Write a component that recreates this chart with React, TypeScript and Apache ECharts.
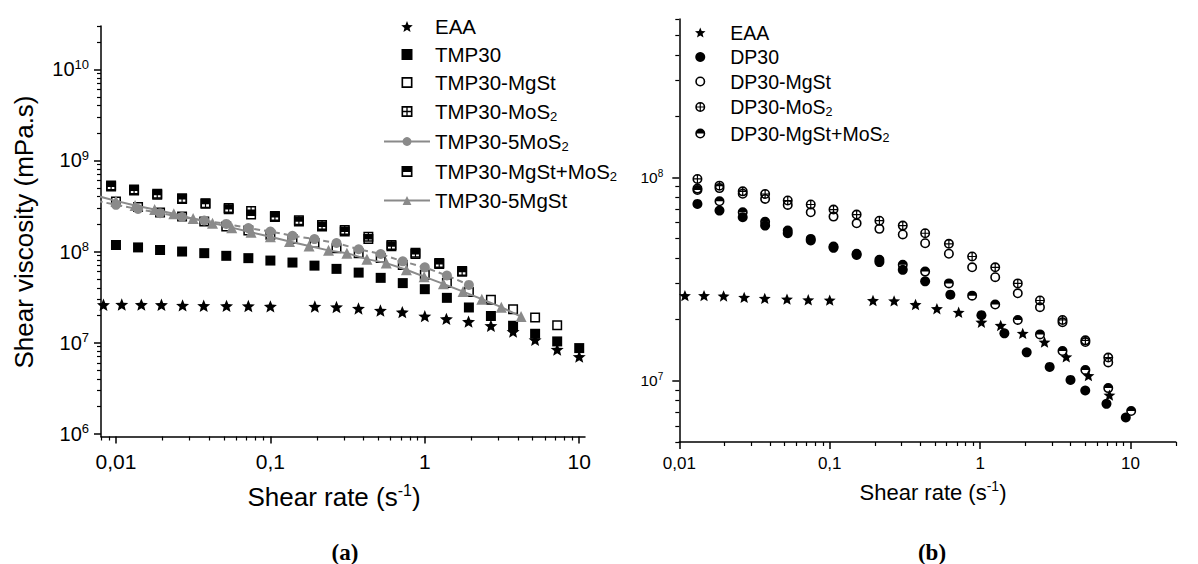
import React, { useEffect, useRef } from 'react';
import * as echarts from 'echarts';

const FONT = '"Liberation Sans", Arial, Helvetica, sans-serif';
const SERIF = '"Liberation Serif", "DejaVu Serif", serif';
const GRAY = '#8a8a8a';

// ---------- Chart (a) data ----------
const A_EAA_X = [0.0083, 0.0109, 0.0146, 0.0197, 0.027, 0.037, 0.052, 0.072, 0.1, 0.194, 0.268, 0.372, 0.516, 0.715, 1.0, 1.38, 1.92, 2.68, 3.73, 5.18, 7.2, 10];
const A_EAA_Y = [2.6e7, 2.62e7, 2.61e7, 2.6e7, 2.56e7, 2.54e7, 2.53e7, 2.52e7, 2.5e7, 2.49e7, 2.46e7, 2.37e7, 2.25e7, 2.16e7, 1.95e7, 1.82e7, 1.7e7, 1.53e7, 1.32e7, 1.07e7, 8.4e6, 7.0e6];

const A_STD_X = [0.01, 0.0139, 0.0193, 0.0268, 0.0373, 0.0518, 0.072, 0.1, 0.139, 0.193, 0.268, 0.373, 0.518, 0.72, 1, 1.39, 1.93, 2.68, 3.73, 5.18, 7.2, 10];
const A_TMP30_Y = [1.18e8, 1.11e8, 1.04e8, 1.0e8, 9.6e7, 8.97e7, 8.46e7, 7.96e7, 7.57e7, 7.0e7, 6.45e7, 5.87e7, 5.14e7, 4.5e7, 3.86e7, 3.1e7, 2.43e7, 1.96e7, 1.53e7, 1.25e7, 1.03e7, 8.7e6];
const A_MGST_Y = [3.55e8, 3.08e8, 2.68e8, 2.43e8, 2.14e8, 1.88e8, 1.7e8, 1.53e8, 1.37e8, 1.24e8, 1.09e8, 9.6e7, 8.5e7, 7.1e7, 5.55e7, 4.5e7, 3.6e7, 2.95e7, 2.33e7, 1.88e7, 1.55e7];

const A_MIX_X = [0.0093, 0.0131, 0.0185, 0.0268, 0.038, 0.0537, 0.075, 0.107, 0.153, 0.216, 0.303, 0.431, 0.608, 0.87, 1.24, 1.745];
const A_MOS2_Y = [5.3e8, 4.8e8, 4.3e8, 3.85e8, 3.4e8, 3.0e8, 2.78e8, 2.45e8, 2.2e8, 1.96e8, 1.72e8, 1.45e8, 1.18e8, 9.7e7, 7.5e7, 6.1e7];
const A_MGST_MOS2_Y = [5.17e8, 4.68e8, 4.2e8, 3.77e8, 3.34e8, 2.92e8, 2.55e8, 2.39e8, 2.14e8, 1.88e8, 1.66e8, 1.37e8, 1.14e8, 9.4e7, 7.3e7, 6.0e7];

const A_5MOS2_X = [0.0075, 0.01, 0.0139, 0.0193, 0.0268, 0.0373, 0.0518, 0.072, 0.1, 0.139, 0.193, 0.268, 0.373, 0.518, 0.72, 1, 1.39, 1.93];
const A_5MOS2_Y = [3.6e8, 3.26e8, 2.93e8, 2.64e8, 2.39e8, 2.19e8, 2.01e8, 1.81e8, 1.66e8, 1.49e8, 1.37e8, 1.24e8, 1.06e8, 9.4e7, 7.8e7, 6.7e7, 5.45e7, 4.3e7];

const A_5MGST_X = [0.0075, 0.01, 0.0133, 0.0178, 0.0237, 0.0316, 0.0422, 0.0562, 0.075, 0.1, 0.133, 0.178, 0.238, 0.313, 0.422, 0.563, 0.76, 0.99, 1.32, 1.77, 2.34, 3.13, 4.2];
const A_5MGST_Y = [4.1e8, 3.6e8, 3.2e8, 2.9e8, 2.6e8, 2.3e8, 2.05e8, 1.83e8, 1.63e8, 1.45e8, 1.29e8, 1.15e8, 1.03e8, 9.6e7, 8.25e7, 7.46e7, 6.3e7, 5.3e7, 4.42e7, 3.63e7, 3.0e7, 2.45e7, 1.93e7];

// ---------- Chart (b) data ----------
const B_EAA_X = [0.0109, 0.0146, 0.0197, 0.027, 0.037, 0.052, 0.072, 0.1, 0.194, 0.268, 0.372, 0.516, 0.72, 1.02, 1.37, 1.92, 2.68, 3.74, 5.25, 7.24];
const B_EAA_Y = [2.62e7, 2.62e7, 2.61e7, 2.57e7, 2.54e7, 2.52e7, 2.5e7, 2.49e7, 2.48e7, 2.47e7, 2.37e7, 2.26e7, 2.17e7, 1.94e7, 1.87e7, 1.71e7, 1.55e7, 1.31e7, 1.06e7, 8.5e6];

const B_STD_X = [0.0132, 0.0185, 0.0264, 0.0372, 0.0526, 0.0748, 0.106, 0.151, 0.214, 0.306, 0.431, 0.62, 0.885, 1.26, 1.78, 2.5, 3.53, 5.01, 7.11, 10.1];
const B_MOS2_Y = [9.82e7, 9.1e7, 8.53e7, 8.28e7, 7.69e7, 7.35e7, 6.94e7, 6.56e7, 6.12e7, 5.79e7, 5.31e7, 4.71e7, 4.08e7, 3.61e7, 3.01e7, 2.48e7, 1.99e7, 1.58e7, 1.3e7];
const B_MGST_Y = [8.8e7, 8.85e7, 8.3e7, 7.83e7, 7.32e7, 6.73e7, 6.41e7, 5.94e7, 5.58e7, 5.24e7, 4.74e7, 4.21e7, 3.61e7, 3.23e7, 2.69e7, 2.3e7, 1.94e7, 1.55e7, 1.23e7];
const B_MGST_MOS2_Y = [8.67e7, 7.62e7, 6.73e7, 6.05e7, 5.47e7, 4.98e7, 4.57e7, 4.21e7, 3.93e7, 3.72e7, 3.44e7, 3.01e7, 2.62e7, 2.37e7, 1.99e7, 1.69e7, 1.4e7, 1.13e7, 9.2e6, 7.1e6];

const B_DP30_X = [0.0132, 0.0185, 0.0264, 0.0372, 0.0526, 0.0748, 0.106, 0.151, 0.214, 0.306, 0.431, 0.634, 1.02, 1.45, 2.04, 2.9, 3.99, 5.0, 6.92, 9.3];
const B_DP30_Y = [7.4e7, 6.86e7, 6.37e7, 5.79e7, 5.31e7, 4.89e7, 4.5e7, 4.15e7, 3.83e7, 3.51e7, 3.08e7, 2.65e7, 2.1e7, 1.71e7, 1.38e7, 1.17e7, 1.01e7, 8.96e6, 7.7e6, 6.6e6];

// ---------- axis ranges / tick labels ----------
const A_X_RANGE = [0.008, 10.9];
const A_Y_RANGE = [9.3e5, 3e10];
const B_X_RANGE = [0.01, 20];
const B_Y_RANGE = [5e6, 6e8];
const A_X_MAJOR = [0.01, 0.1, 1, 10];
const A_Y_MAJOR = [1e6, 1e7, 1e8, 1e9, 1e10];
const B_X_MAJOR = [0.01, 0.1, 1, 10];
const B_Y_MAJOR = [1e7, 1e8];

const LEGEND_A = ['EAA', 'TMP30', 'TMP30-MgSt', 'TMP30-MoS2', 'TMP30-5MoS2', 'TMP30-MgSt+MoS2', 'TMP30-5MgSt'];
const LEGEND_B = ['EAA', 'DP30', 'DP30-MgSt', 'DP30-MoS2', 'DP30-MgSt+MoS2'];

// ---------- symbols ----------
const STAR = 'path://M50 0L62.93 32.2L97.55 34.55L70.92 56.8L79.39 90.45L50 72L20.61 90.45L29.08 56.8L2.45 34.55L37.07 32.2Z';
const SQ_FULL = 'path://M0 0H10V10H0Z';
const SQ_OPEN = 'path://M0 0H10V10H0Z M1.5 1.5V8.5H8.5V1.5Z';
const SQ_PLUS = 'path://M0 0H10V10H0Z M1.5 1.5V4.4H4.4V1.5Z M5.6 1.5V4.4H8.5V1.5Z M1.5 5.6V8.5H4.4V5.6Z M5.6 5.6V8.5H8.5V5.6Z';
const SQ_HALF = 'path://M0 0H10V10H0Z M1.5 5.4V8.5H8.5V5.4Z';
const RING = 'M0 5A5 5 0 1 1 10 5A5 5 0 1 1 0 5Z M1.6 5A3.4 3.4 0 1 0 8.4 5A3.4 3.4 0 1 0 1.6 5Z';
const CI_OPEN = 'path://' + RING;
const CI_PLUS = 'path://' + RING + ' M1.6 4.4H8.4V5.6H1.6Z M4.4 1.6H5.6V8.4H4.4Z';
const CI_HALF = 'path://' + RING + ' M1.6 5A3.4 3.4 0 0 1 8.4 5Z';

function zip(xs: number[], ys: number[]) {
  const n = Math.min(xs.length, ys.length);
  const out: number[][] = [];
  for (let i = 0; i < n; i++) out.push([xs[i], ys[i]]);
  return out;
}

function minorTicks(range: number[]) {
  const res: number[] = [];
  const d0 = Math.floor(Math.log10(range[0]));
  const d1 = Math.ceil(Math.log10(range[1]));
  for (let d = d0; d <= d1; d++) {
    for (let m = 2; m <= 9; m++) {
      const v = parseFloat((m * Math.pow(10, d)).toPrecision(6));
      if (v >= range[0] * 0.999 && v <= range[1] * 1.001) res.push(v);
    }
  }
  return res;
}

const fmtX = (v: number) => String(parseFloat(v.toPrecision(6))).replace('.', ',');
const fmtY = (v: number) => '10{sup|' + Math.round(Math.log10(v)) + '}';
const fmtSub = (name: string) => name.replace(/MoS2/g, 'MoS{sub|2}');

function mainX(grid: number, range: number[], major: number[], fontSize: number, margin: number) {
  return {
    type: 'log', gridIndex: grid, min: range[0], max: range[1], position: 'bottom',
    axisLine: { show: true, onZero: false, lineStyle: { color: '#000', width: 1.5 } },
    axisTick: { show: true, inside: false, length: 7, customValues: major, lineStyle: { color: '#000', width: 1.5 } },
    axisLabel: { show: true, customValues: major, formatter: fmtX, fontSize, fontFamily: FONT, color: '#000', margin },
    splitLine: { show: false }, minorTick: { show: false }, minorSplitLine: { show: false },
  };
}
function minorX(grid: number, range: number[]) {
  return {
    type: 'log', gridIndex: grid, min: range[0], max: range[1], position: 'bottom',
    axisLine: { show: false },
    axisTick: { show: true, inside: false, length: 4, customValues: minorTicks(range), lineStyle: { color: '#000', width: 1.2 } },
    axisLabel: { show: false }, splitLine: { show: false },
  };
}
function mainY(grid: number, range: number[], major: number[], fontSize: number, supSize: number, supPad: number, margin: number) {
  return {
    type: 'log', gridIndex: grid, min: range[0], max: range[1], position: 'left',
    axisLine: { show: true, onZero: false, lineStyle: { color: '#000', width: 1.5 } },
    axisTick: { show: true, inside: false, length: 7, customValues: major, lineStyle: { color: '#000', width: 1.5 } },
    axisLabel: {
      show: true, customValues: major, formatter: fmtY, fontSize, fontFamily: FONT, color: '#000', margin,
      rich: { sup: { fontSize: supSize, fontFamily: FONT, color: '#000', padding: [0, 0, supPad, 0] } },
    },
    splitLine: { show: false }, minorTick: { show: false }, minorSplitLine: { show: false },
  };
}
function minorY(grid: number, range: number[]) {
  return {
    type: 'log', gridIndex: grid, min: range[0], max: range[1], position: 'left',
    axisLine: { show: false },
    axisTick: { show: true, inside: false, length: 4, customValues: minorTicks(range), lineStyle: { color: '#000', width: 1.2 } },
    axisLabel: { show: false }, splitLine: { show: false },
  };
}

function scatter(name: string, ax: number, xs: number[], ys: number[], symbol: string, size: number, color: string) {
  return {
    type: 'scatter', name, xAxisIndex: ax, yAxisIndex: ax, data: zip(xs, ys),
    symbol, symbolSize: size, symbolKeepAspect: true,
    itemStyle: { color, opacity: 1 }, silent: true, emphasis: { disabled: true },
  };
}
function lineSeries(name: string, ax: number, xs: number[], ys: number[], symbol: string, size: number, dashed: boolean) {
  return {
    type: 'line', name, xAxisIndex: ax, yAxisIndex: ax, data: zip(xs, ys),
    symbol, symbolSize: size, showSymbol: true, clip: true,
    lineStyle: { color: GRAY, width: 2, type: dashed ? [6, 4] : 'solid' },
    itemStyle: { color: GRAY }, silent: true, emphasis: { disabled: true },
  };
}

export default function App() {
  const ref = useRef<HTMLDivElement>(null);
  useEffect(() => {
    const chart = echarts.init(ref.current as HTMLDivElement, null, { renderer: 'svg' });
    const option: any = {
      animation: false,
      backgroundColor: '#ffffff',
      textStyle: { fontFamily: FONT },
      grid: [
        { left: 101, top: 26, width: 484, height: 410.5, containLabel: false, outerBoundsMode: 'none' },
        { left: 679.3, top: 19, width: 496.5, height: 423, containLabel: false, outerBoundsMode: 'none' },
      ],
      xAxis: [
        mainX(0, A_X_RANGE, A_X_MAJOR, 21, 14),
        minorX(0, A_X_RANGE),
        mainX(1, B_X_RANGE, B_X_MAJOR, 17, 13),
        minorX(1, B_X_RANGE),
      ],
      yAxis: [
        mainY(0, A_Y_RANGE, A_Y_MAJOR, 20, 13, 10, 12),
        minorY(0, A_Y_RANGE),
        mainY(1, B_Y_RANGE, B_Y_MAJOR, 15.5, 10, 8, 16),
        minorY(1, B_Y_RANGE),
      ],
      legend: [
        {
          data: LEGEND_A, orient: 'vertical', left: 383, top: 16, padding: 0,
          itemWidth: 46, itemHeight: 11, itemGap: 7, selectedMode: false, formatter: fmtSub,
          lineStyle: { type: 'solid', width: 2 },
          textStyle: {
            fontSize: 20.5, fontFamily: FONT, color: '#000', lineHeight: 20,
            rich: { sub: { fontSize: 13, lineHeight: 13, fontFamily: FONT, color: '#000', padding: [10, 0, 0, 0] } },
          },
        },
        {
          data: LEGEND_B, orient: 'vertical', left: 695, top: 22.5, padding: 0,
          itemWidth: 50, itemHeight: 10, itemGap: 4.5, selectedMode: false, formatter: fmtSub,
          textStyle: {
            fontSize: 19.5, fontFamily: FONT, color: '#000', lineHeight: 19.5,
            rich: { sub: { fontSize: 12.5, lineHeight: 12.5, fontFamily: FONT, color: '#000', padding: [9, 0, 0, 0] } },
          },
        },
      ],
      graphic: [
        {
          type: 'text', x: 24, y: 232, rotation: Math.PI / 2,
          style: { text: 'Shear viscosity (mPa.s)', fontSize: 26, fontFamily: FONT, fill: '#000', align: 'center', verticalAlign: 'middle' },
        },
        {
          type: 'text', x: 334, y: 497,
          style: {
            text: 'Shear rate (s{sup|-1})', fontSize: 26, fontFamily: FONT, fill: '#000', align: 'center', verticalAlign: 'middle',
            rich: { sup: { fontSize: 16, fontFamily: FONT, fill: '#000', padding: [0, 0, 14, 0] } },
          },
        },
        {
          type: 'text', x: 933, y: 492,
          style: {
            text: 'Shear rate (s{sup|-1})', fontSize: 22, fontFamily: FONT, fill: '#000', align: 'center', verticalAlign: 'middle',
            rich: { sup: { fontSize: 14, fontFamily: FONT, fill: '#000', padding: [0, 0, 12, 0] } },
          },
        },
        {
          type: 'text', x: 345, y: 552,
          style: { text: '(a)', fontSize: 23, fontWeight: 'bold', fontFamily: SERIF, fill: '#000', align: 'center', verticalAlign: 'middle' },
        },
        {
          type: 'text', x: 932, y: 552,
          style: { text: '(b)', fontSize: 23, fontWeight: 'bold', fontFamily: SERIF, fill: '#000', align: 'center', verticalAlign: 'middle' },
        },
      ],
      series: [
        scatter('EAA', 0, A_EAA_X, A_EAA_Y, STAR, 13, '#000'),
        scatter('TMP30', 0, A_STD_X, A_TMP30_Y, SQ_FULL, 10, '#000'),
        scatter('TMP30-MgSt', 0, A_STD_X, A_MGST_Y, SQ_OPEN, 10, '#000'),
        scatter('TMP30-MoS2', 0, A_MIX_X, A_MOS2_Y, SQ_PLUS, 10, '#000'),
        lineSeries('TMP30-5MoS2', 0, A_5MOS2_X, A_5MOS2_Y, 'circle', 10, true),
        scatter('TMP30-MgSt+MoS2', 0, A_MIX_X, A_MGST_MOS2_Y, SQ_HALF, 10, '#000'),
        lineSeries('TMP30-5MgSt', 0, A_5MGST_X, A_5MGST_Y, 'triangle', 11, false),

        scatter('EAA', 2, B_EAA_X, B_EAA_Y, STAR, 12, '#000'),
        scatter('DP30', 2, B_DP30_X, B_DP30_Y, 'circle', 10, '#000'),
        scatter('DP30-MgSt', 2, B_STD_X, B_MGST_Y, CI_OPEN, 10, '#000'),
        scatter('DP30-MoS2', 2, B_STD_X, B_MOS2_Y, CI_PLUS, 10, '#000'),
        scatter('DP30-MgSt+MoS2', 2, B_STD_X, B_MGST_MOS2_Y, CI_HALF, 10, '#000'),
      ],
    };
    chart.setOption(option);
    return () => chart.dispose();
  }, []);
  return (
    <div
      ref={ref}
      style={{ position: 'absolute', left: 0, top: 0, width: 1198, height: 564, background: '#fff' }}
    />
  );
}
